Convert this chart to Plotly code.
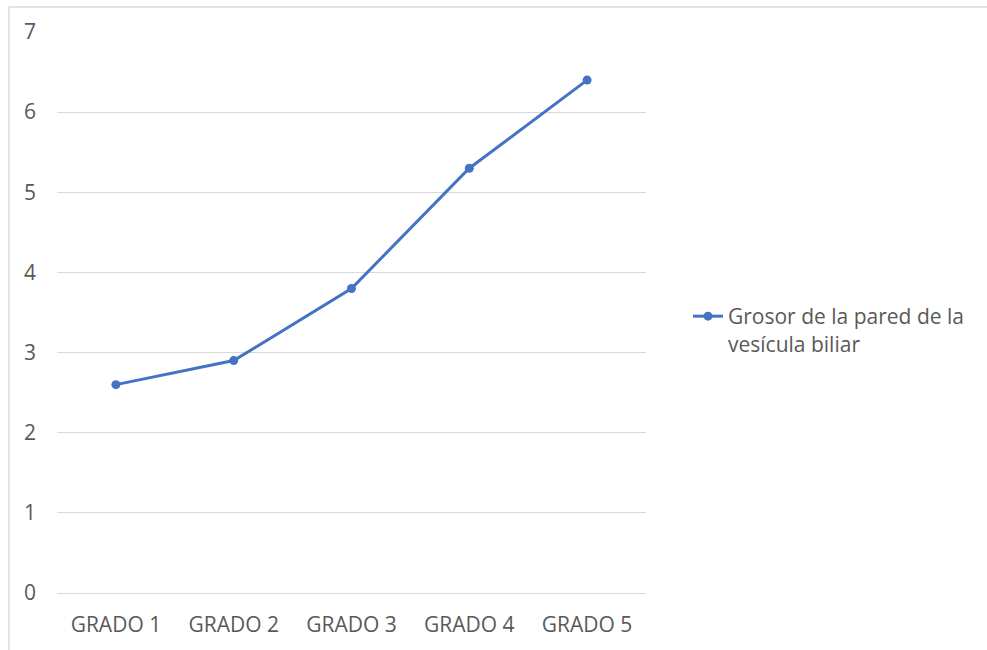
import plotly.graph_objects as go

categories = ["GRADO 1", "GRADO 2", "GRADO 3", "GRADO 4", "GRADO 5"]
values = [2.6, 2.9, 3.8, 5.3, 6.4]
series_name = "Grosor de la pared de la<br>vesícula biliar"
y_ticks = [0, 1, 2, 3, 4, 5, 6, 7]

W, H = 987, 650
L, R, T, B = 57, 341, 32, 57
pw = W - L - R
ph = H - T - B

def px_x(p):
    return (p - L) / pw

def px_y(p):
    return (H - B - p) / ph

fig = go.Figure()
fig.add_trace(go.Scatter(
    x=categories, y=values, mode="lines+markers", name=series_name,
    line=dict(color="#4472C4", width=3),
    marker=dict(color="#4472C4", size=9),
    showlegend=True,
))

font = dict(family="Open Sans, Liberation Sans, sans-serif", size=21, color="#595959")

fig.update_layout(
    width=W, height=H,
    margin=dict(l=L, r=R, t=T, b=B),
    paper_bgcolor="white", plot_bgcolor="white",
    font=font,
    xaxis=dict(
        type="category", showgrid=False, showline=False, zeroline=False,
        ticks="", ticklabelstandoff=17, tickfont=font,
        range=[-0.5, 4.5],
    ),
    yaxis=dict(
        range=[0, 7], tickvals=y_ticks, showgrid=True, gridcolor="#D9D9D9",
        gridwidth=1, zeroline=True, zerolinecolor="#D9D9D9", zerolinewidth=1,
        showline=False, ticks="", ticklabelstandoff=20, tickfont=font,
    ),
    legend=dict(
        x=px_x(688), y=px_y(296), xanchor="left", yanchor="top",
        valign="top", font=font, bgcolor="rgba(0,0,0,0)",
    ),
    shapes=[
        dict(type="line", xref="paper", yref="paper",
             x0=px_x(9), x1=px_x(9), y0=px_y(H + 5), y1=px_y(7),
             line=dict(color="#D9D9D9", width=1.5)),
        dict(type="line", xref="paper", yref="paper",
             x0=px_x(9), x1=px_x(W + 5), y0=px_y(7), y1=px_y(7),
             line=dict(color="#D9D9D9", width=1.5)),
    ],
)

fig.write_html("out.html")
